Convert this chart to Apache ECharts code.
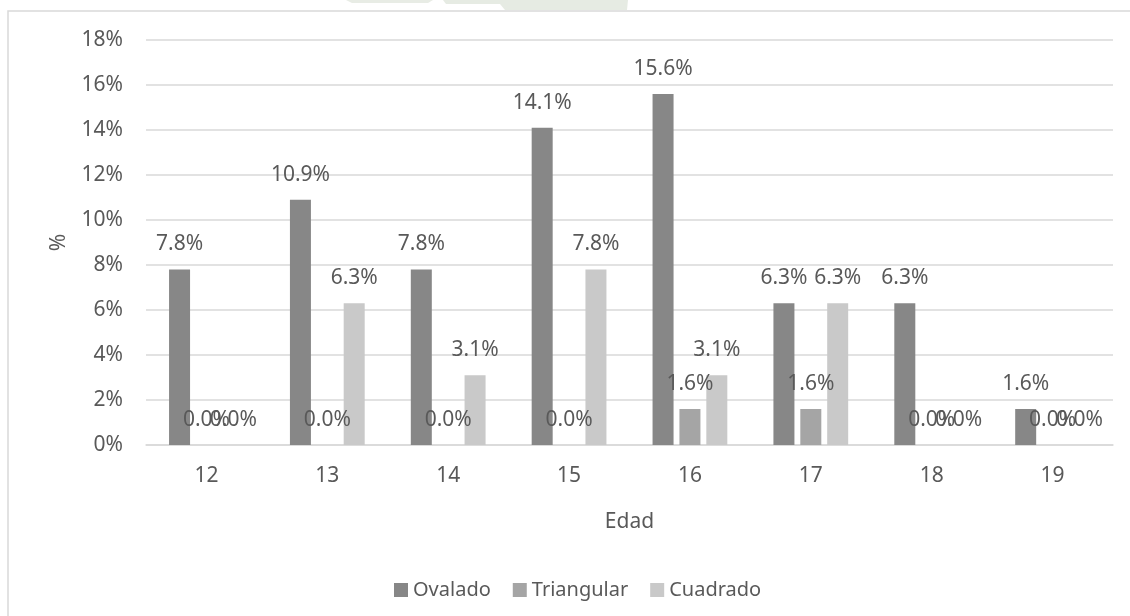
<!DOCTYPE html>
<html>
<head>
<meta charset="utf-8">
<script src="https://cdn.jsdelivr.net/npm/echarts@6/dist/echarts.min.js"></script>
<style>
  html, body { margin: 0; padding: 0; background: #ffffff; }
  #chart { width: 1130px; height: 616px; }
</style>
</head>
<body>
<div id="chart"></div>
<script>
// Age groups (years)
const categories = ['12', '13', '14', '15', '16', '17', '18', '19'];

// Share of each face shape by age, in percent
const ovalado    = [7.8, 10.9, 7.8, 14.1, 15.6, 6.3, 6.3, 1.6];
const triangular = [0.0, 0.0, 0.0, 0.0, 1.6, 1.6, 0.0, 0.0];
const cuadrado   = [0.0, 6.3, 3.1, 7.8, 3.1, 6.3, 0.0, 0.0];

const seriesNames = ['Ovalado', 'Triangular', 'Cuadrado'];
const seriesColors = ['#878787', '#a5a5a5', '#c9c9c9'];

const FONT = '"Noto Sans", "Open Sans", sans-serif';
const FONT_SIZE = 21;
const TEXT_COLOR = '#595959';
const LINE_COLOR = '#d9d9d9';

function barSeries(name, data, color) {
  return {
    name: name,
    type: 'bar',
    data: data,
    barWidth: 21,
    barGap: '28%',
    itemStyle: { color: color },
    label: {
      show: true,
      position: 'top',
      distance: 13,
      color: TEXT_COLOR,
      fontFamily: FONT,
      fontSize: FONT_SIZE,
      lineHeight: 24,
      formatter: p => p.value.toFixed(1) + '%'
    }
  };
}

const chart = echarts.init(document.getElementById('chart'), null, { renderer: 'canvas' });

chart.setOption({
  backgroundColor: '#ffffff',
  animation: false,
  textStyle: { fontFamily: FONT },
  graphic: [
    // faint emblem peeking in above the frame
    {
      type: 'polygon',
      shape: { points: [[346, 0], [433, 0], [428, 3], [352, 3]] },
      style: { fill: '#e8ece5' },
      silent: true,
      z: -20
    },
    {
      type: 'polygon',
      shape: { points: [[443, 0], [628, 0], [627, 10], [505, 10], [500, 4], [446, 4]] },
      style: { fill: '#e6ebe3' },
      silent: true,
      z: -20
    },
    // outer chart frame
    {
      type: 'rect',
      shape: { x: 8, y: 11, width: 1140, height: 700 },
      style: { fill: '#ffffff', stroke: LINE_COLOR, lineWidth: 1.5 },
      silent: true,
      z: -10
    }
  ],
  grid: { left: 146, right: 17, top: 40, bottom: 171, containLabel: false },
  legend: {
    data: seriesNames,
    left: 389,
    top: 575,
    icon: 'rect',
    itemWidth: 14,
    itemHeight: 14,
    itemGap: 22,
    textStyle: { color: TEXT_COLOR, fontFamily: FONT, fontSize: 20 }
  },
  xAxis: {
    type: 'category',
    data: categories,
    name: 'Edad',
    nameLocation: 'middle',
    nameGap: 67,
    nameTextStyle: { color: TEXT_COLOR, fontFamily: FONT, fontSize: FONT_SIZE },
    axisLine: { lineStyle: { color: LINE_COLOR, width: 1.5 } },
    axisTick: { show: false },
    axisLabel: { color: TEXT_COLOR, fontFamily: FONT, fontSize: FONT_SIZE, margin: 21 }
  },
  yAxis: {
    type: 'value',
    min: 0,
    max: 18,
    interval: 2,
    name: '%',
    nameLocation: 'middle',
    nameRotate: 90,
    nameGap: 76,
    nameTextStyle: { color: TEXT_COLOR, fontFamily: FONT, fontSize: FONT_SIZE },
    axisLine: { show: false },
    axisTick: { show: false },
    axisLabel: {
      color: TEXT_COLOR, fontFamily: FONT, fontSize: FONT_SIZE, margin: 23,
      formatter: v => v + '%'
    },
    splitLine: { lineStyle: { color: LINE_COLOR, width: 1.5 } }
  },
  series: [
    barSeries(seriesNames[0], ovalado, seriesColors[0]),
    barSeries(seriesNames[1], triangular, seriesColors[1]),
    barSeries(seriesNames[2], cuadrado, seriesColors[2])
  ]
});
</script>
</body>
</html>
